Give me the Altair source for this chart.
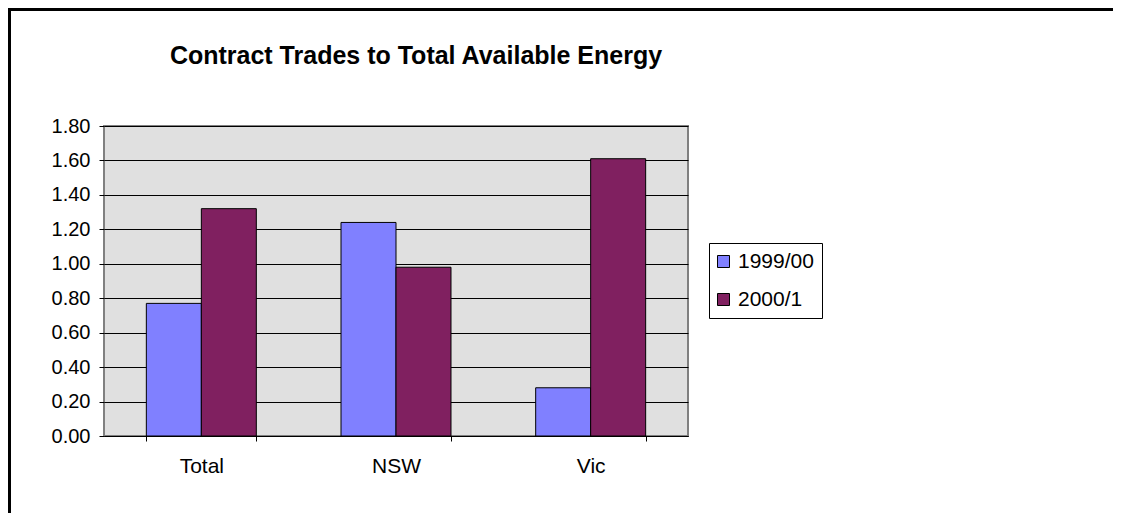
import altair as alt
import pandas as pd

categories = ["Total", "NSW", "Vic"]
series = ["1999/00", "2000/1"]
values_1999 = [0.77, 1.24, 0.28]
values_2000 = [1.32, 0.98, 1.61]
y_ticks = [0.0, 0.2, 0.4, 0.6, 0.8, 1.0, 1.2, 1.4, 1.6, 1.8]
title_text = "Contract Trades to Total Available Energy"
colors = ["#8080FF", "#802060"]

rows = []
for i, c in enumerate(categories):
    rows.append({"region": c, "period": series[0], "value": values_1999[i]})
    rows.append({"region": c, "period": series[1], "value": values_2000[i]})
df = pd.DataFrame(rows)

FONT = "Liberation Sans"

bars = alt.Chart(df).mark_bar(stroke="black", strokeWidth=1, opacity=1).encode(
    x=alt.X(
        "region:N", sort=categories, title=None,
        scale=alt.Scale(paddingInner=0.435, paddingOuter=0.2175),
        axis=alt.Axis(labelAngle=0, tickBand="extent", domainColor="black",
                      tickColor="black", tickSize=5, labelFontSize=21,
                      labelPadding=14, labelFont=FONT, labelColor="black",
                      grid=False),
    ),
    xOffset=alt.XOffset("period:N", sort=series),
    y=alt.Y(
        "value:Q", title=None,
        scale=alt.Scale(domain=[0, 1.8], nice=False),
        axis=alt.Axis(values=y_ticks, format=".2f", grid=True, gridColor="black",
                      gridWidth=1, domain=False, tickColor="black", tickSize=5,
                      labelFontSize=20, labelPadding=9, labelFont=FONT,
                      labelColor="black"),
    ),
    color=alt.Color(
        "period:N", sort=series,
        scale=alt.Scale(domain=series, range=colors),
        legend=alt.Legend(title=None, orient="none", legendX=605, legendY=117,
                          fillColor="white", strokeColor="black", padding=8,
                          symbolType="square", symbolSize=144,
                          symbolStrokeColor="black", symbolStrokeWidth=1,
                          symbolOpacity=1, rowPadding=16, labelFontSize=21,
                          labelFont=FONT, labelColor="black", labelOffset=4,
                          symbolOffset=-4),
    ),
)

border = alt.Chart(alt.Data(values=[{}])).mark_rect(
    fill="white", fillOpacity=0, stroke="black", strokeWidth=3
).encode(
    x=alt.value(-94.5), x2=alt.value(1300),
    y=alt.value(-116.5), y2=alt.value(700),
)

title_mark = alt.Chart(alt.Data(values=[{"t": title_text}])).mark_text(
    font=FONT, fontSize=25, fontWeight="bold", color="black",
    align="center", baseline="alphabetic"
).encode(
    text="t:N", x=alt.value(312), y=alt.value(-62),
)

chart = alt.layer(border, bars, title_mark).properties(
    width=584, height=310,
    padding={"left": 96, "top": 118, "right": 425, "bottom": 77},
    autosize=alt.AutoSizeParams(type="none"),
    background="white",
).configure_view(
    fill="#E0E0E0", stroke="#808080", strokeWidth=2
)

chart.save("out.html", embed_options={"renderer": "svg", "actions": False})
